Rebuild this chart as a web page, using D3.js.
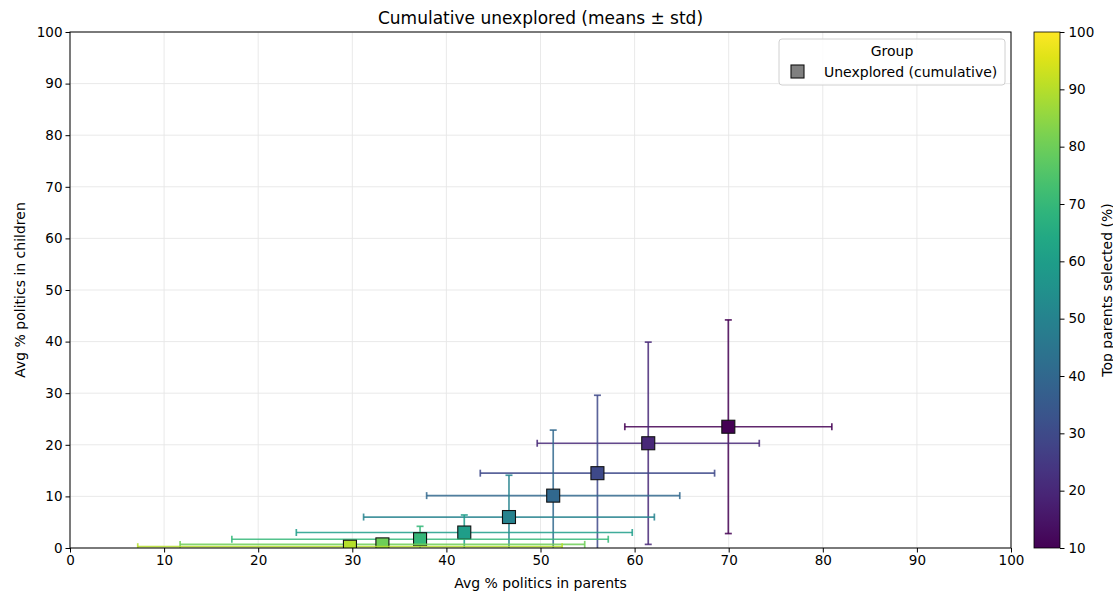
<!DOCTYPE html>
<html>
<head>
<meta charset="utf-8">
<script src="https://cdn.jsdelivr.net/npm/d3@7"></script>
<style>
  body { margin: 0; background: #fff; }
  svg { font-family: "DejaVu Sans", sans-serif; }
</style>
</head>
<body>
<script>
// top parents selected (%)
var pct = [10, 20, 30, 40, 50, 60, 70, 80, 90];
// avg % politics in parents (mean, std)
var xMean = [69.96, 61.45, 56.05, 51.35, 46.65, 41.9, 37.2, 33.2, 29.75];
var xStd = [11.0, 11.8, 12.45, 13.45, 15.45, 17.85, 20.0, 21.5, 22.55];
// avg % politics in children (mean, std)
var yMean = [23.5, 20.3, 14.5, 10.15, 6.0, 3.0, 1.7, 0.7, 0.25];
var yStd = [20.7, 19.6, 15.1, 12.7, 8.1, 3.4, 2.5, 0.9, 0.3];
var ticks = [0, 10, 20, 30, 40, 50, 60, 70, 80, 90, 100];
var cbTicks = [10, 20, 30, 40, 50, 60, 70, 80, 90, 100];

var W = 1113, H = 594;
var plotL = 70, plotR = 1011, plotT = 32, plotB = 548;

var svg = d3.select('body').append('svg')
  .attr('width', W)
  .attr('height', H);

var x = d3.scaleLinear().domain([0, 100]).range([plotL, plotR]);
var y = d3.scaleLinear().domain([0, 100]).range([plotB, plotT]);
var color = function(v) { return d3.interpolateViridis((v - 10) / 90); };

var defs = svg.append('defs');
defs.append('clipPath').attr('id', 'plotclip')
  .append('rect')
  .attr('x', plotL).attr('y', plotT)
  .attr('width', plotR - plotL).attr('height', plotB - plotT);

// grid
var grid = svg.append('g');
ticks.forEach(function(t) {
  grid.append('line')
    .attr('x1', x(t)).attr('x2', x(t)).attr('y1', plotT).attr('y2', plotB)
    .attr('stroke', '#e6e6e6').attr('stroke-width', 0.9);
  grid.append('line')
    .attr('y1', y(t)).attr('y2', y(t)).attr('x1', plotL).attr('x2', plotR)
    .attr('stroke', '#e6e6e6').attr('stroke-width', 0.9);
});

// axes
var xAxis = svg.append('g')
  .attr('transform', 'translate(0,' + plotB + ')')
  .call(d3.axisBottom(x).tickValues(ticks).tickSize(4.5).tickPadding(3).tickFormat(d3.format('d')));
var yAxis = svg.append('g')
  .attr('transform', 'translate(' + plotL + ',0)')
  .call(d3.axisLeft(y).tickValues(ticks).tickSize(4.5).tickPadding(3).tickFormat(d3.format('d')));
[xAxis, yAxis].forEach(function(a) {
  a.selectAll('.domain').remove();
  a.selectAll('text').attr('font-size', 13.5).attr('fill', '#000')
    .attr('font-family', '"DejaVu Sans", sans-serif');
  a.selectAll('line').attr('stroke', '#000').attr('stroke-width', 1);
});

// data marks
var plot = svg.append('g').attr('clip-path', 'url(#plotclip)');
var cap = 3.5;
var data = pct.map(function(p, i) {
  return { p: p, x: xMean[i], sx: xStd[i], y: yMean[i], sy: yStd[i] };
});

data.forEach(function(d) {
  var c = color(d.p);
  var g = plot.append('g');
  var x0 = x(d.x - d.sx), x1 = x(d.x + d.sx);
  var y0 = y(d.y - d.sy), y1 = y(d.y + d.sy);
  var cx = x(d.x), cy = y(d.y);
  var ln = function(a, b, c2, e) {
    g.append('line')
      .attr('x1', a).attr('y1', b).attr('x2', c2).attr('y2', e)
      .attr('stroke', c).attr('stroke-opacity', 0.85).attr('stroke-width', 1.7);
  };
  ln(x0, cy, x1, cy);
  ln(cx, y0, cx, y1);
  ln(x0, cy - cap, x0, cy + cap);
  ln(x1, cy - cap, x1, cy + cap);
  ln(cx - cap, y0, cx + cap, y0);
  ln(cx - cap, y1, cx + cap, y1);
  g.append('rect')
    .attr('x', cx - 6.5).attr('y', cy - 6.5)
    .attr('width', 13).attr('height', 13)
    .attr('fill', c).attr('stroke', '#111').attr('stroke-width', 1.1);
});

// frame
svg.append('rect')
  .attr('x', plotL).attr('y', plotT)
  .attr('width', plotR - plotL).attr('height', plotB - plotT)
  .attr('fill', 'none').attr('stroke', '#000').attr('stroke-width', 1);

// title and labels
svg.append('text')
  .attr('x', (plotL + plotR) / 2).attr('y', 24)
  .attr('text-anchor', 'middle').attr('font-size', 17)
  .text('Cumulative unexplored (means \u00b1 std)');
svg.append('text')
  .attr('x', (plotL + plotR) / 2).attr('y', 588)
  .attr('text-anchor', 'middle').attr('font-size', 14)
  .text('Avg % politics in parents');
svg.append('text')
  .attr('transform', 'translate(25,' + ((plotT + plotB) / 2) + ') rotate(-90)')
  .attr('text-anchor', 'middle').attr('font-size', 14)
  .text('Avg % politics in children');

// legend
var lg = svg.append('g');
lg.append('rect')
  .attr('x', 779).attr('y', 39).attr('width', 226).attr('height', 46)
  .attr('rx', 3).attr('fill', '#fff').attr('fill-opacity', 0.85)
  .attr('stroke', '#d0d0d0');
lg.append('text')
  .attr('x', 892).attr('y', 56).attr('text-anchor', 'middle')
  .attr('font-size', 14).text('Group');
lg.append('rect')
  .attr('x', 791).attr('y', 65).attr('width', 13).attr('height', 13)
  .attr('fill', '#808080').attr('stroke', '#111').attr('stroke-width', 1.1);
lg.append('text')
  .attr('x', 824).attr('y', 77).attr('font-size', 14)
  .text('Unexplored (cumulative)');

// colorbar
var cbL = 1034, cbW = 26;
var cy2 = d3.scaleLinear().domain([10, 100]).range([plotB, plotT]);
var grad = defs.append('linearGradient')
  .attr('id', 'cbgrad').attr('x1', 0).attr('y1', 1).attr('x2', 0).attr('y2', 0);
d3.range(0, 1.0001, 0.05).forEach(function(t) {
  grad.append('stop').attr('offset', t).attr('stop-color', d3.interpolateViridis(t));
});
svg.append('rect')
  .attr('x', cbL).attr('y', plotT).attr('width', cbW).attr('height', plotB - plotT)
  .attr('fill', 'url(#cbgrad)').attr('stroke', '#000').attr('stroke-width', 0.8);
var cbAxis = svg.append('g')
  .attr('transform', 'translate(' + (cbL + cbW) + ',0)')
  .call(d3.axisRight(cy2).tickValues(cbTicks).tickSize(4.5).tickPadding(4).tickFormat(d3.format('d')));
cbAxis.selectAll('.domain').remove();
cbAxis.selectAll('text').attr('font-size', 13.5).attr('fill', '#000')
  .attr('font-family', '"DejaVu Sans", sans-serif');
cbAxis.selectAll('line').attr('stroke', '#000');
svg.append('text')
  .attr('transform', 'translate(1112,' + ((plotT + plotB) / 2) + ') rotate(-90)')
  .attr('text-anchor', 'middle').attr('font-size', 14)
  .text('Top parents selected (%)');
</script>
</body>
</html>
